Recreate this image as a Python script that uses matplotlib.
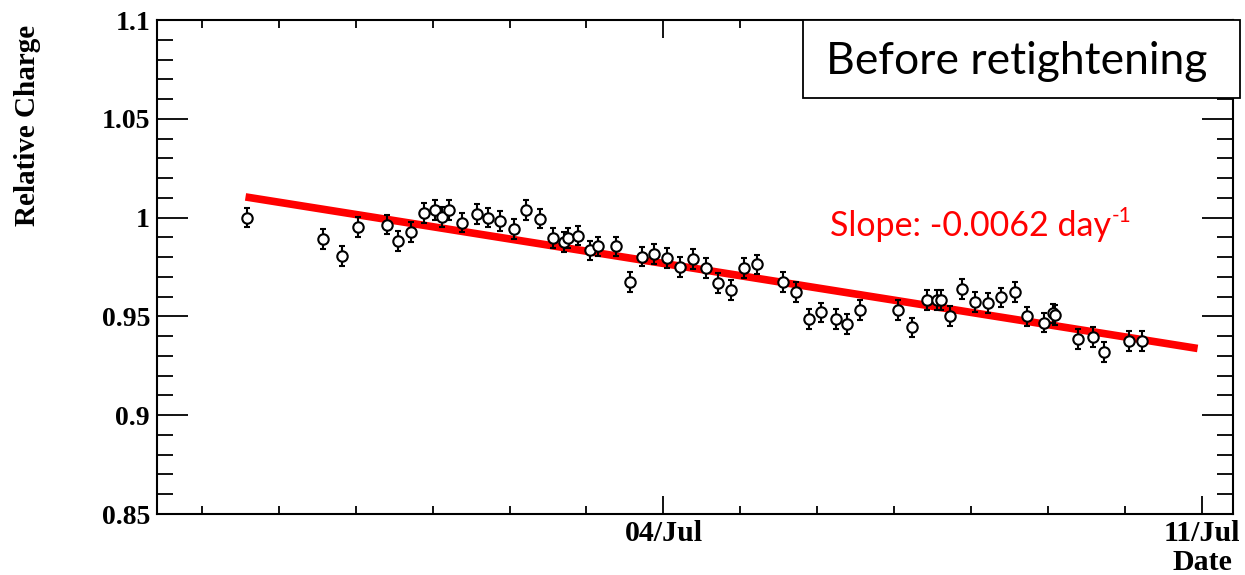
import numpy as np
import matplotlib
matplotlib.use("Agg")
import matplotlib.pyplot as plt
from matplotlib.patches import Rectangle
from matplotlib.ticker import MultipleLocator, FixedLocator

# data: days relative to 04/Jul 00:00, relative charge
days = [-5.412, -4.429, -4.178, -3.970, -3.594, -3.445, -3.286, -3.117, -2.965, -2.879,
        -2.788, -2.614, -2.425, -2.282, -2.126, -1.944, -1.788, -1.610, -1.438, -1.286,
        -1.238, -1.113, -0.957, -0.848, -0.614, -0.432, -0.282, -0.117, 0.048, 0.221,
        0.386, 0.555, 0.714, 0.883, 1.048, 1.217, 1.558, 1.718, 1.887, 2.048,
        2.243, 2.390, 2.549, 3.043, 3.230, 3.425, 3.549, 3.606, 3.718, 3.883,
        4.052, 4.221, 4.386, 4.571, 4.718, 4.939, 5.065, 5.091, 5.381, 5.581,
        5.718, 6.052, 6.221]
charge = [1.000, 0.989, 0.9805, 0.9953, 0.9965, 0.988, 0.9927, 1.0024, 1.0038, 1.0004,
          1.0038, 0.9975, 1.002, 1.000, 0.9983, 0.9944, 1.0038, 0.9995, 0.9897, 0.9876,
          0.9897, 0.9909, 0.9834, 0.9854, 0.9854, 0.9676, 0.9803, 0.9817, 0.9797, 0.9749,
          0.9792, 0.9746, 0.9668, 0.9634, 0.9744, 0.9763, 0.9673, 0.9622, 0.9486, 0.952,
          0.9486, 0.946, 0.9532, 0.9534, 0.9444, 0.9583, 0.9583, 0.9583, 0.9503, 0.9639,
          0.9571, 0.9566, 0.9596, 0.9622, 0.95, 0.9469, 0.9515, 0.9507, 0.9384, 0.9396,
          0.932, 0.9376, 0.9376]
charge_err = 0.005

# linear fit shown on the plot
fit_slope = -0.0062
fit_intercept = 0.9768
fit_range = [-5.43, 6.94]

date_ticks = [0, 7]
date_labels = ["04/Jul", "11/Jul"]

W, H = 1245, 575
fig = plt.figure(figsize=(W / 100, H / 100), dpi=100)
ax = fig.add_axes([157 / W, 1 - 514 / H, (1233 - 157) / W, (514 - 20) / H])

ax.errorbar(days, charge, yerr=charge_err, fmt="o", color="black", mfc="white",
            mec="black", ms=7.5, mew=1.5, elinewidth=1.5, capsize=2, capthick=1.5,
            zorder=3)

xf = np.linspace(fit_range[0], fit_range[1], 50)
ax.plot(xf, fit_intercept + fit_slope * xf, color="#ff0000", lw=5.5, zorder=2,
        solid_capstyle="butt")

ax.set_xlim(-6.58, 7.40)
ax.set_ylim(0.85, 1.1)

serif = {"family": "Liberation Serif", "weight": "bold"}
ax.xaxis.set_major_locator(FixedLocator(date_ticks))
ax.xaxis.set_minor_locator(MultipleLocator(1))
ax.set_xticklabels(date_labels, fontdict={**serif, "size": 21.5})
ax.yaxis.set_major_locator(MultipleLocator(0.05))
ax.yaxis.set_minor_locator(MultipleLocator(0.01))
ax.set_yticks([0.85, 0.9, 0.95, 1.0, 1.05, 1.1])
ax.set_yticklabels(["0.85", "0.9", "0.95", "1", "1.05", "1.1"], fontdict={**serif, "size": 20})

ax.tick_params(axis="y", which="major", direction="in", length=22, width=1.3,
               left=True, right=True, pad=5)
ax.tick_params(axis="y", which="minor", direction="in", length=11.5, width=1.3,
               left=True, right=True)
ax.tick_params(axis="x", which="major", direction="in", length=13, width=1.3,
               top=True, bottom=True, pad=4)
ax.tick_params(axis="x", which="minor", direction="in", length=6, width=1.3,
               top=True, bottom=True)
for s in ax.spines.values():
    s.set_linewidth(1.5)

fig.text(28 / W, 1 - 125 / H, "Relative Charge", rotation=90, ha="center", va="center",
         fontdict={**serif, "size": 21})
fig.text(1232 / W, 1 - 563 / H, "Date", ha="right", va="center",
         fontdict={**serif, "size": 21.5})

# title box
box = Rectangle((803 / W, 1 - 98 / H), (1240 - 803) / W, (98 - 20) / H,
                transform=fig.transFigure, facecolor="white", edgecolor="black",
                lw=1.3, zorder=5)
fig.patches.append(box)
fig.text(1017 / W, 1 - 61 / H, "Before retightening", ha="center", va="center",
         family="Lato", size=32, zorder=6)

# slope label with a superscript
slope_txt = fig.text(830 / W, 1 - 236 / H, "Slope: -0.0062 day", ha="left", va="baseline",
                     family="Lato", size=24.5, color="#ff0000")
fig.canvas.draw()
bb = slope_txt.get_window_extent()
fig.text((bb.x1 + 1) / W, 1 - 222 / H, "-1", ha="left", va="baseline",
         family="Lato", size=15, color="#ff0000")

fig.savefig("out.png", dpi=100)
